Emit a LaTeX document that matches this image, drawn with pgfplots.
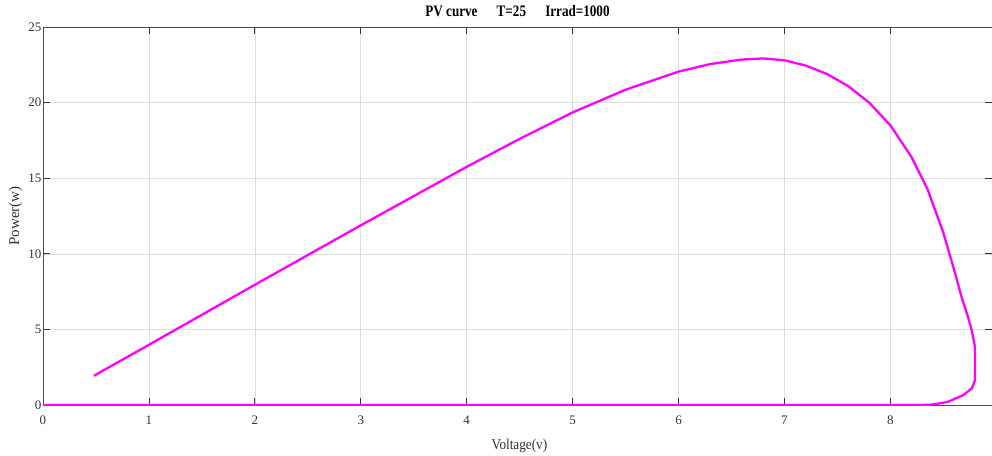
\documentclass[border=0pt]{standalone}
\usepackage{fontspec}
\setmainfont{Liberation Serif}
\newfontfamily\narrowfont{Liberation Serif}[FakeStretch=0.88]
\newfontfamily\titlefont{Liberation Serif}[FakeStretch=0.82]
\usepackage{pgfplots}
\pgfplotsset{compat=1.18}

\definecolor{pvmag}{RGB}{255,0,255}
\definecolor{gridgray}{RGB}{222,222,222}
\definecolor{txtgray}{RGB}{50,50,50}

\begin{document}
\begin{tikzpicture}
\begin{axis}[
  scale only axis,
  width=949pt, height=378pt,
  xmin=0, xmax=8.96, ymin=0, ymax=25,
  xtick={0,1,...,8}, ytick={0,5,...,25},
  tick align=inside, major tick length=7pt,
  tick style={black!80, line width=0.7pt},
  axis line style={black!70, line width=0.7pt},
  grid=major, grid style={gridgray, line width=0.6pt},
  /pgf/number format/assume math mode=true,
  ticklabel style={font=\fontsize{13}{15}\selectfont, text=txtgray},
  xticklabel style={yshift=-7pt},
  yticklabel style={xshift=2pt},
  title={\titlefont\bfseries PV curve\hspace{1.2em}T=25\hspace{1.2em}Irrad=1000},
  title style={font=\fontsize{16}{18}\selectfont, at={(axis description cs:0.5,1)}, anchor=center, yshift=10pt},
  xlabel={\narrowfont Voltage(v)}, ylabel={Power(w)},
  label style={font=\fontsize{15}{17}\selectfont, text=txtgray},
  xlabel style={at={(axis description cs:0.502,0)}, anchor=center, yshift=-41pt},
  ylabel style={at={(axis description cs:-0.029,0.5)}, anchor=center, rotate=0},
]
\addplot[pvmag, line width=2.3pt, line join=round] coordinates {
(0.48,1.93) (1,3.98) (2,7.95) (3,11.88) (4,15.75) (4.5,17.6) (5,19.35)
(5.5,20.85) (6,22.05) (6.3,22.55) (6.6,22.85) (6.8,22.92) (7.0,22.8)
(7.2,22.45) (7.4,21.9) (7.6,21.1) (7.8,20.0) (8.0,18.5) (8.2,16.4)
(8.35,14.3) (8.5,11.4) (8.6,9.0) (8.67,7.2) (8.73,5.9) (8.77,4.9)
(8.80,3.8) (8.80,2.8) (8.80,1.65) (8.77,1.1) (8.69,0.66) (8.54,0.2)
(8.40,0.03) (8.3,0) (0,0)
};
\end{axis}
\pgfresetboundingbox
\path[use as bounding box] (-43pt,-50pt) rectangle (949pt,405pt);
\end{tikzpicture}
\end{document}
